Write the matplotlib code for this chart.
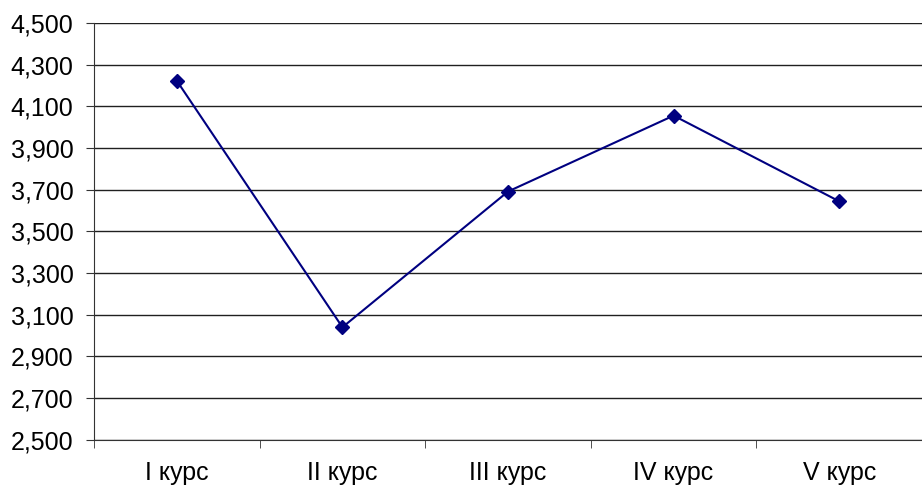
import numpy as np
import matplotlib.pyplot as plt
from matplotlib.ticker import FixedLocator, FuncFormatter

plt.rcParams['font.family'] = ['Liberation Sans', 'DejaVu Sans']

categories = ['I курс', 'II курс', 'III курс', 'IV курс', 'V курс']
values = [4.222, 3.040, 3.691, 4.055, 3.644]
y_ticks = [2.5, 2.7, 2.9, 3.1, 3.3, 3.5, 3.7, 3.9, 4.1, 4.3, 4.5]

fig = plt.figure(figsize=(9.22, 4.86), dpi=100)
ax = fig.add_axes([0.102, 0.095, 0.898, 0.858])

x = np.arange(len(categories))
ax.plot(x, values, color='#000080', lw=1.5, marker='D', ms=7, zorder=3)

ax.set_xlim(-0.5, len(categories) - 0.5)
ax.set_ylim(2.5, 4.5)
ax.set_yticks(y_ticks)
ax.yaxis.set_major_formatter(FuncFormatter(lambda v, p: f'{v:.3f}'.replace('.', ',')))
for v in y_ticks:
    ax.axhline(v, color='#202020', lw=1, zorder=1)

ax.set_xticks(x)
ax.set_xticklabels(categories)
ax.xaxis.set_minor_locator(FixedLocator(np.arange(-0.5, len(categories), 1)))
ax.tick_params(axis='x', which='major', length=0, pad=15, labelsize=18)
ax.tick_params(axis='x', which='minor', length=5.8, direction='out', color='#333333')
ax.tick_params(axis='y', length=5.8, direction='out', color='#333333', labelsize=18, pad=9)

for s in ['top', 'right']:
    ax.spines[s].set_visible(False)
ax.spines['left'].set_color('#333333')
ax.spines['bottom'].set_color('#333333')

fig.savefig('out.png', dpi=100)
